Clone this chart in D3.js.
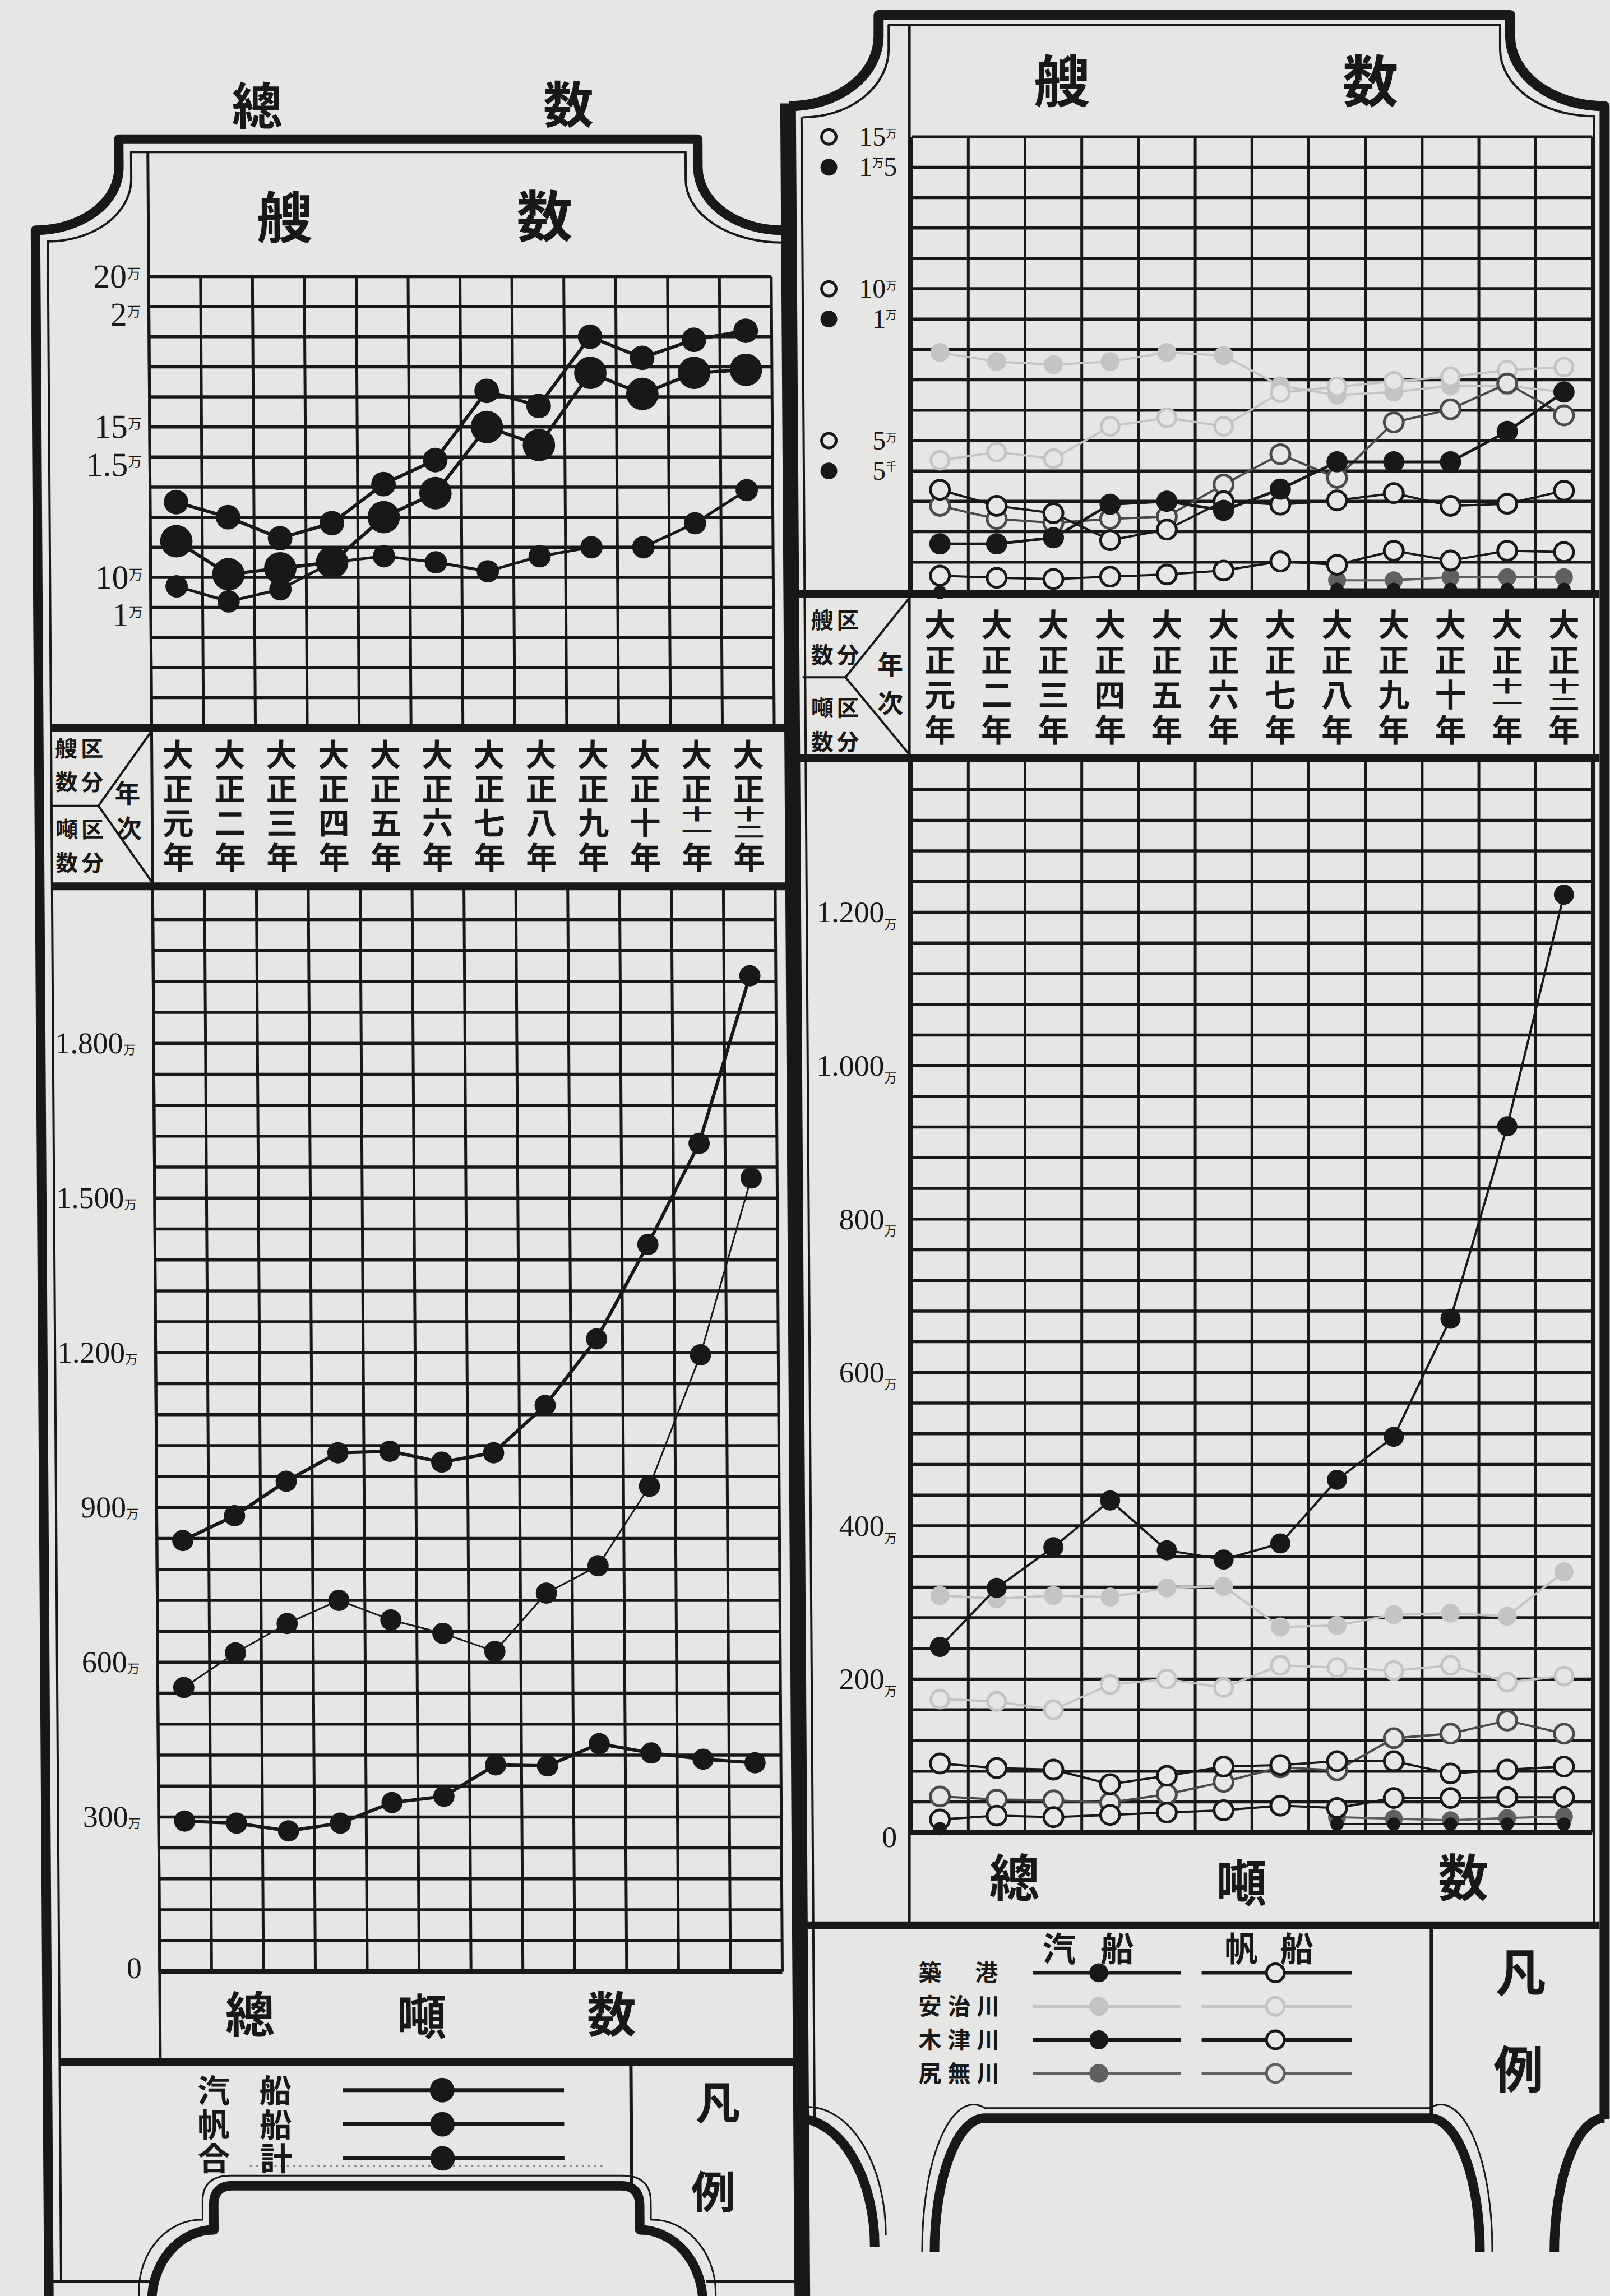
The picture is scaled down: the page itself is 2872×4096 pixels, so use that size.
<!DOCTYPE html>
<html>
<head>
<meta charset="utf-8">
<script src="https://cdnjs.cloudflare.com/ajax/libs/d3/7.8.5/d3.min.js"></script>
<style>
body { margin: 0; background: #e6e6e4; }
svg { display: block; }
</style>
</head>
<body>
<script>
var years = ['大正元年', '大正二年', '大正三年', '大正四年', '大正五年', '大正六年',
  '大正七年', '大正八年', '大正九年', '大正十年', '大正十一年', '大正十二年']

// left panel: 總数, ships (万)
var totalShips = [12.5, 12.0, 11.3, 11.8, 13.1, 13.9, 16.2, 15.7, 18.0, 17.3, 17.9, 18.2]
var sailShips = [11.2, 10.1, 10.3, 10.5, 12.0, 12.8, 15.0, 14.4, 16.8, 16.1, 16.8, 16.9]
var steamShips = [1.07, 1.02, 1.06, 1.15, 1.17, 1.15, 1.12, 1.17, 1.20, 1.20, 1.28, 1.39]
// left panel: 總噸数 (万噸)
var totalTons = [836, 884, 951, 1006, 1009, 988, 1006, 1098, 1227, 1410, 1606, 1931]
var steamTons = [551, 618, 675, 720, 682, 656, 621, 734, 787, 941, 1196, 1539]
var sailTons = [292, 288, 273, 288, 328, 340, 401, 399, 442, 424, 412, 405]

// right panel: by district, ships (万)
var chikkoSteamShips = [0.26, 0.26, 0.28, 0.39, 0.40, 0.37, 0.44, 0.53, 0.53, 0.53, 0.63, 0.76]
var ajiSteamShips = [0.89, 0.86, 0.85, 0.86, 0.89, 0.88, 0.78, 0.75, 0.76, 0.78, 0.78, 0.76]
var kizuSteamShips = [0.10, null, null, null, null, null, null, 0.11, 0.11, 0.11, 0.11, 0.11]
var shiriSteamShips = [null, null, null, null, null, null, null, 0.14, 0.14, 0.15, 0.15, 0.15]
var chikkoSailShips = [3.38, 2.85, 2.61, 1.72, 2.07, 3.00, 2.89, 3.03, 3.27, 2.85, 2.92, 3.35]
var ajiSailShips = [4.35, 4.62, 4.40, 5.47, 5.75, 5.47, 6.58, 6.77, 6.95, 7.10, 7.32, 7.42]
var kizuSailShips = [0.55, 0.48, 0.44, 0.52, 0.59, 0.72, 1.02, 0.91, 1.37, 1.05, 1.37, 1.33]
var shiriSailShips = [2.85, 2.42, 2.29, 2.42, 2.50, 3.55, 4.55, 3.77, 5.60, 6.03, 6.88, 5.83]
// right panel: by district, tonnage (万噸)
var chikkoSteamTons = [242, 319, 372, 433, 368, 356, 377, 460, 516, 670, 921, 1223]
var ajiSteamTons = [309, 305, 309, 307, 319, 321, 268, 270, 284, 286, 282, 340]
var kizuSteamTons = [5, null, null, null, null, null, null, 11, 11, 11, 11, 11]
var shiriSteamTons = [null, null, null, null, null, null, null, 20, 18, 16, 19, 21]
var chikkoSailTons = [90, 84, 82, 63, 74, 86, 88, 93, 93, 77, 82, 86]
var ajiSailTons = [174, 171, 160, 193, 200, 189, 218, 215, 211, 218, 196, 204]
var kizuSailTons = [17, 22, 20, 23, 26, 29, 35, 32, 45, 45, 46, 46]
var shiriSailTons = [47, 43, 42, 39, 50, 66, 85, 81, 123, 129, 146, 129]

// tick labels
var ltBigTicks = [20, 15, 10], ltBigLabels = ['20', '15', '10']
var ltSmallTicks = [2, 1.5, 1], ltSmallLabels = ['2', '1.5', '1']
var lbTicks = [1800, 1500, 1200, 900, 600, 300], lbLabels = ['1.800', '1.500', '1.200', '900', '600', '300']
var rtSailTicks = [15, 10, 5], rtSailLabels = ['15', '10', '5']
var rtSteamTicks = [1.5, 1, 0.5], rtSteamLabels = [['1', '万', '5'], ['1', '万', ''], ['5', '千', '']]
var rbTicks = [1200, 1000, 800, 600, 400, 200], rbLabels = ['1.200', '1.000', '800', '600', '400', '200']

var leftKeys = ['汽船', '帆船', '合計']
var areas = ['築港', '安治川', '木津川', '尻無川']

var cjk = '"Noto Sans CJK JP","Noto Sans CJK SC",sans-serif'
var serif = '"Liberation Serif","DejaVu Serif",serif'
var ink = '#181818', paper = '#e6e6e4', pale = '#c4c4c4', mid = '#606060'

var svg = d3.select('body').append('svg').attr('width', 2872).attr('height', 4096)
svg.append('rect').attr('width', 2872).attr('height', 4096).attr('fill', paper)
var root = svg.append('g').attr('transform', 'scale(0.997)')
// the left sheet is printed slightly askew
var sk = 0.0065
var L = root.append('g').attr('transform', 'matrix(1,0,' + sk + ',1,' + (-sk * 495) + ',0)')
var R = root.append('g')

function line(g, x1, y1, x2, y2, w, c) {
  return g.append('line').attr('x1', x1).attr('y1', y1).attr('x2', x2).attr('y2', y2)
    .attr('stroke', c || ink).attr('stroke-width', w)
}
function path(g, d, w, c) {
  return g.append('path').attr('d', d).attr('fill', 'none').attr('stroke', c || ink)
    .attr('stroke-width', w).attr('stroke-linejoin', 'round')
}
// one glyph, centred on (x, y)
function txt(g, x, y, s, size) {
  return g.append('text').attr('x', x).attr('y', y + size * 0.36).attr('font-size', size)
    .attr('font-family', cjk).attr('font-weight', 600).attr('text-anchor', 'middle')
    .attr('fill', ink).text(s)
}
// one glyph set upright in a vertical column, centred on (x, y); sy squeezes it vertically
function vglyph(g, x, y, s, size, sy) {
  var t = g.append('text').attr('writing-mode', 'vertical-rl').attr('font-size', size)
    .attr('font-family', cjk).attr('font-weight', 600).attr('fill', ink).text(s)
  if (sy) t.attr('x', 0).attr('y', -size / 2).attr('transform', 'translate(' + x + ',' + y + ') scale(1,' + sy + ')')
  else t.attr('x', x).attr('y', y - size / 2)
  return t
}
function grid(g, x, y, rows, top, bot) {
  var xs = x.domain().map(function(d) { return x(d) }).concat([x.range()[1]])
  g.append('g').selectAll('line').data(xs).enter().append('line')
    .attr('x1', function(d) { return d }).attr('x2', function(d) { return d })
    .attr('y1', top).attr('y2', bot).attr('stroke', ink).attr('stroke-width', 5)
  g.append('g').selectAll('line').data(rows).enter().append('line')
    .attr('x1', x.range()[0]).attr('x2', x.range()[1])
    .attr('y1', function(d) { return y(d) }).attr('y2', function(d) { return y(d) })
    .attr('stroke', ink).attr('stroke-width', 5.5)
}
function series(g, x, y, vals, c, r, lw, open) {
  var pts = vals.map(function(v, i) { return { x: x(years[i]) + x.bandwidth() / 2, v: v } })
  var ln = d3.line().defined(function(d) { return d.v != null })
    .x(function(d) { return d.x }).y(function(d) { return y(d.v) })
  g.append('path').attr('d', ln(pts)).attr('fill', 'none').attr('stroke', c).attr('stroke-width', lw)
  g.append('g').selectAll('circle').data(pts.filter(function(d) { return d.v != null })).enter().append('circle')
    .attr('cx', function(d) { return d.x }).attr('cy', function(d) { return y(d.v) }).attr('r', r)
    .attr('fill', open ? paper : c).attr('stroke', c).attr('stroke-width', open ? 5 : 0)
}
// y0 = centre of first glyph, sp = pitch; 十一 / 十二 share one cell
function yearLabels(g, x, y0, sp, size) {
  years.forEach(function(s) {
    var cx = x(s) + x.bandwidth() / 2
    var ch = Array.from(s)
    if (ch.length == 4) {
      ch.forEach(function(c, j) { vglyph(g, cx, y0 + j * sp, c, size) })
    } else {
      vglyph(g, cx, y0, ch[0], size)
      vglyph(g, cx, y0 + sp, ch[1], size)
      vglyph(g, cx, y0 + 1.75 * sp, ch[2], size, 0.52)
      vglyph(g, cx, y0 + 2.25 * sp, ch[3], size, 0.52)
      vglyph(g, cx, y0 + 3 * sp, ch[4], size)
    }
  })
}
// tick labels: item = [y, [number, unit, trailing], unitDy]
function numLabels(g, xEnd, items, size) {
  var t = g.append('text').attr('text-anchor', 'end').attr('font-family', serif)
    .attr('font-size', size).attr('fill', ink)
  items.forEach(function(it) {
    var p = it[1], dy = it[2]
    t.append('tspan').attr('x', xEnd).attr('y', it[0] + size * 0.33).text(p[0])
    if (p[1]) t.append('tspan').attr('font-family', cjk).attr('font-size', size * 0.42).attr('dy', dy).text(p[1])
    if (p[2]) t.append('tspan').attr('dy', -dy).text(p[2])
  })
  return t
}

// ---------- left sheet ----------
var xL = d3.scaleBand().domain(years).range([266, 1380])
var yLbig = d3.scaleLinear().domain([5, 20]).range([1302, 495])
var yLsmall = d3.scaleLinear().domain([0.6, 2.1]).range([1302, 495])
var yLton = d3.scaleLinear().domain([0, 2100]).range([3528, 1590])

grid(L, xL, yLbig, d3.range(6, 21), 495, 1302)
grid(L, xL, yLton, d3.range(60, 2101, 60), 1590, 3528)

path(L, 'M64,4120 V412 A150,112 0 0 0 214,300 V249 H1250 V300 A150,112 0 0 0 1400,412', 17)
path(L, 'M86,4082 V432 A150,112 0 0 0 236,320 V272 H1228 V320 A172,112 0 0 0 1400,434', 4)
line(L, 1412, 185, 1412, 4120, 28)
line(L, 1436, 210, 1436, 3792, 4)
line(L, 266, 272, 266, 3690, 5)
line(L, 86, 1302, 1405, 1302, 14)
line(L, 86, 1586, 1405, 1586, 14)
line(L, 266, 3528, 1380, 3528, 9)
line(L, 86, 3690, 1405, 3690, 14)
line(L, 1108, 3690, 1108, 3925, 6)
path(L, 'M266,1308 L170,1442 L266,1580', 4)
line(L, 86, 1442, 170, 1442, 4)
path(L, 'M248,4120 A112,130 0 0 1 360,3990 V3945 Q360,3911 394,3911 H1088 Q1122,3911 1122,3945 V3990 A112,130 0 0 1 1234,4120', 17)
path(L, 'M226,4120 A112,130 0 0 1 340,3972 V3940 Q340,3893 390,3893 H1092 Q1142,3893 1142,3940 V3972 A112,130 0 0 1 1256,4120', 3)
line(L, 425, 3876, 1058, 3876, 3, '#8a8a8a').attr('stroke-dasharray', '4 7')
line(L, 64, 4082, 253, 4082, 5)
line(L, 1240, 4082, 1412, 4082, 5)

txt(L, 462, 190, '總', 90)
txt(L, 1019, 188, '数', 90)
txt(L, 510, 390, '艘', 100)
txt(L, 975, 388, '数', 100)

numLabels(L, 252, ltBigTicks.map(function(v, i) { return [yLbig(v), [ltBigLabels[i], '万'], -16] })
  .concat(ltSmallTicks.map(function(v, i) { return [yLsmall(v) + 14, [ltSmallLabels[i], '万'], -16] })), 60)
numLabels(L, 234, lbTicks.map(function(v, i) { return [yLton(v), [lbLabels[i], '万'], 2] })
  .concat([[yLton(0) - 6, ['0'], 0]]), 54)

yearLabels(L, xL, 1350, 61, 56)
txt(L, 113, 1340, '艘', 40); txt(L, 159, 1340, '区', 40)
txt(L, 113, 1400, '数', 40); txt(L, 159, 1400, '分', 40)
txt(L, 113, 1484, '噸', 40); txt(L, 159, 1484, '区', 40)
txt(L, 113, 1544, '数', 40); txt(L, 159, 1544, '分', 40)
vglyph(L, 222, 1419, '年', 46)
vglyph(L, 224, 1482, '次', 46)

series(L, xL, yLsmall, steamShips, ink, 20, 5, false)
series(L, xL, yLbig, sailShips, ink, 29, 6, false)
series(L, xL, yLbig, totalShips, ink, 22, 6, false)
series(L, xL, yLton, sailTons, ink, 19, 6, false)
series(L, xL, yLton, steamTons, ink, 19, 3, false)
series(L, xL, yLton, totalTons, ink, 19, 6, false)

txt(L, 427, 3605, '總', 88)
txt(L, 734, 3609, '噸', 88)
txt(L, 1074, 3605, '数', 88)

var lkY = [3740, 3801, 3862]
leftKeys.forEach(function(k, i) {
  vglyph(L, 361, lkY[i], k[0], 58)
  vglyph(L, 472, lkY[i], k[1], 58)
  line(L, 592, lkY[i], 988, lkY[i], 7)
  L.append('circle').attr('cx', 770).attr('cy', lkY[i]).attr('r', 22).attr('fill', ink)
})
txt(L, 1263, 3764, '凡', 80)
txt(L, 1254, 3923, '例', 80)

// ---------- right sheet ----------
var xR = d3.scaleBand().domain(years).range([1631, 2849])
var yRsail = d3.scaleLinear().domain([0, 15]).range([1060, 245])
var yRsteam = d3.scaleLinear().domain([0.1, 1.6]).range([1060, 245])
var yRton = d3.scaleLinear().domain([0, 1400]).range([3279, 1358])

grid(R, xR, yRsail, d3.range(1, 16), 245, 1060)
grid(R, xR, yRton, d3.range(40, 1401, 40), 1358, 3279)

path(R, 'M1412,190 A160,125 0 0 0 1572,65 V27 H2702 V65 A169,125 0 0 0 2871,190 V3792', 18)
path(R, 'M1436,210 A154,122 0 0 0 1590,88 V45 H2684 V88 A168,120 0 0 0 2852,208 V3445', 4)
line(R, 1627, 45, 1627, 3445, 5)
line(R, 1420, 1063, 2862, 1063, 14)
line(R, 1420, 1356, 2862, 1356, 14)
line(R, 1627, 3279, 2849, 3279, 9)
line(R, 1420, 3445, 2862, 3445, 14)
line(R, 2561, 3445, 2561, 3790, 6)
path(R, 'M1627,1070 L1513,1212 L1627,1350', 4)
line(R, 1436, 1212, 1513, 1212, 4)
path(R, 'M1425,3790 A140,230 0 0 1 1565,4020', 17)
path(R, 'M1445,3770 A140,230 0 0 1 1585,4000', 3)
path(R, 'M1672,4030 A90,240 0 0 1 1762,3790 H2558 A90,240 0 0 1 2648,4030', 17)
path(R, 'M1650,4030 A92,258 0 0 1 1762,3772 H2558 A92,258 0 0 1 2670,4030', 3)
path(R, 'M2871,3790 A90,240 0 0 0 2781,4030', 17)

txt(R, 1900, 147, '艘', 100)
txt(R, 2452, 147, '数', 100)

rtSailTicks.forEach(function(v) {
  R.append('circle').attr('cx', 1483).attr('cy', yRsail(v)).attr('r', 13)
    .attr('fill', paper).attr('stroke', ink).attr('stroke-width', 5)
})
rtSteamTicks.forEach(function(v) {
  R.append('circle').attr('cx', 1483).attr('cy', yRsteam(v)).attr('r', 15).attr('fill', ink)
})
numLabels(R, 1605, rtSailTicks.map(function(v, i) { return [yRsail(v), [rtSailLabels[i], '万'], -14] })
  .concat(rtSteamTicks.map(function(v, i) { return [yRsteam(v), rtSteamLabels[i], -16] })), 48)
numLabels(R, 1605, rbTicks.map(function(v, i) { return [yRton(v), [rbLabels[i], '万'], 12] })
  .concat([[yRton(0) + 8, ['0'], 0]]), 54)

yearLabels(R, xR, 1117, 63, 56)
txt(R, 1471, 1110, '艘', 40); txt(R, 1517, 1110, '区', 40)
txt(R, 1471, 1172, '数', 40); txt(R, 1517, 1172, '分', 40)
txt(R, 1471, 1266, '噸', 40); txt(R, 1517, 1266, '区', 40)
txt(R, 1471, 1328, '数', 40); txt(R, 1517, 1328, '分', 40)
vglyph(R, 1593, 1188, '年', 46)
vglyph(R, 1593, 1257, '次', 46)

// faded district first, then grey, then black
series(R, xR, yRsteam, ajiSteamShips, pale, 17, 4, false)
series(R, xR, yRsail, ajiSailShips, pale, 16, 4, true)
series(R, xR, yRsteam, shiriSteamShips, mid, 16, 4, false)
series(R, xR, yRsail, shiriSailShips, '#4a4a4a', 17, 4, true)
series(R, xR, yRsail, kizuSailShips, ink, 17, 4, true)
series(R, xR, yRsail, chikkoSailShips, ink, 17, 4, true)
series(R, xR, yRsteam, kizuSteamShips, ink, 12, 4, false)
series(R, xR, yRsteam, chikkoSteamShips, ink, 19, 5, false)

series(R, xR, yRton, ajiSteamTons, pale, 17, 4, false)
series(R, xR, yRton, ajiSailTons, pale, 16, 4, true)
series(R, xR, yRton, shiriSteamTons, mid, 16, 4, false)
series(R, xR, yRton, shiriSailTons, '#4a4a4a', 17, 4, true)
series(R, xR, yRton, kizuSailTons, ink, 17, 4, true)
series(R, xR, yRton, chikkoSailTons, ink, 17, 4, true)
series(R, xR, yRton, kizuSteamTons, ink, 12, 4, false)
series(R, xR, yRton, chikkoSteamTons, ink, 18, 4, false)

txt(R, 1815, 3361, '總', 90)
txt(R, 2221, 3370, '噸', 90)
txt(R, 2618, 3361, '数', 90)

txt(R, 1895, 3488, '汽', 60); txt(R, 1999, 3488, '船', 60)
txt(R, 2221, 3488, '帆', 60); txt(R, 2320, 3488, '船', 60)
var akY = [3530, 3590, 3650, 3710]
var akCol = [ink, pale, ink, mid]
areas.forEach(function(a, i) {
  var ch = Array.from(a)
  var xs = ch.length == 2 ? [1664, 1765] : [1664, 1716, 1768]
  ch.forEach(function(c, j) { txt(R, xs[j], akY[i], c, 41) })
  line(R, 1848, akY[i], 2113, akY[i], 6, akCol[i])
  R.append('circle').attr('cx', 1966).attr('cy', akY[i]).attr('r', 17).attr('fill', akCol[i])
  line(R, 2150, akY[i], 2419, akY[i], 6, akCol[i])
  R.append('circle').attr('cx', 2282).attr('cy', akY[i]).attr('r', 16).attr('fill', paper)
    .attr('stroke', akCol[i]).attr('stroke-width', 5)
})
txt(R, 2721, 3530, '凡', 90)
txt(R, 2717, 3704, '例', 90)
</script>
</body>
</html>
